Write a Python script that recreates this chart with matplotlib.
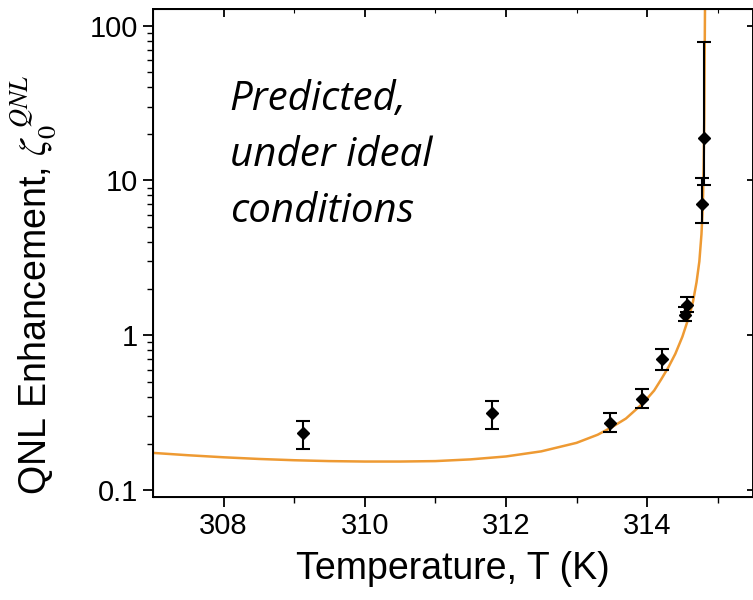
import numpy as np
import matplotlib
matplotlib.use('Agg')
import matplotlib.pyplot as plt
from matplotlib.ticker import FixedLocator, LogLocator, NullFormatter

plt.rcParams['font.family'] = ['Liberation Sans', 'DejaVu Sans']
plt.rcParams['mathtext.fontset'] = 'stix'

# predicted curve
curve_T = [307.0, 307.5, 308.0, 308.5, 309.0, 309.5, 310.0, 310.5, 311.0, 311.5,
           312.0, 312.5, 313.0, 313.3, 313.5, 313.7, 313.9, 314.0, 314.1, 314.2,
           314.3, 314.4, 314.5, 314.6, 314.65, 314.7, 314.74, 314.77, 314.79,
           314.80, 314.81, 314.815, 314.82]
curve_Z = [0.174, 0.168, 0.163, 0.159, 0.156, 0.154, 0.153, 0.153, 0.154, 0.158,
           0.165, 0.178, 0.202, 0.228, 0.255, 0.29, 0.35, 0.39, 0.44, 0.52,
           0.62, 0.76, 0.98, 1.35, 1.65, 2.2, 3.0, 4.5, 7.0,
           12.0, 25.0, 60.0, 130.0]

# measured points
pt_T = [309.12, 311.80, 313.47, 313.93, 314.21, 314.54, 314.56, 314.78, 314.80]
pt_Z = [0.233, 0.314, 0.270, 0.386, 0.70, 1.35, 1.56, 7.0, 18.7]
pt_lo = [0.184, 0.250, 0.237, 0.338, 0.60, 1.23, 1.42, 5.3, 9.4]
pt_hi = [0.279, 0.375, 0.314, 0.449, 0.81, 1.52, 1.76, 10.3, 78.0]

fig = plt.figure(figsize=(7.53, 6.0), dpi=100)
ax = fig.add_axes([153/753, 1 - 497/600, 600/753, 488/600])

ax.plot(curve_T, curve_Z, color='#EE9A33', lw=1.8, zorder=2)

z = np.array(pt_Z)
yerr = [z - np.array(pt_lo), np.array(pt_hi) - z]
ax.errorbar(pt_T, pt_Z, yerr=yerr, fmt='D', color='black', mfc='black', mec='black',
            ms=6, ecolor='black', elinewidth=1.5, capsize=5, capthick=1.5, zorder=3)

ax.set_yscale('log')
ax.set_xlim(307.0, 315.5)
ax.set_ylim(0.0903, 128)

ax.xaxis.set_major_locator(FixedLocator([308, 310, 312, 314]))
ax.xaxis.set_minor_locator(FixedLocator([309, 311, 313, 315]))
ax.yaxis.set_major_locator(FixedLocator([0.1, 1, 10, 100]))
ax.yaxis.set_minor_locator(LogLocator(base=10, subs=np.arange(2, 10)))
ax.yaxis.set_minor_formatter(NullFormatter())
ax.set_yticklabels(['0.1', '1', '10', '100'])

ax.tick_params(which='major', direction='out', length=7, width=1.3, labelsize=21, pad=4)
ax.tick_params(which='minor', direction='out', length=4, width=1.0)
for s in ax.spines.values():
    s.set_linewidth(1.4)

# mirrored ticks on top and right
top = ax.secondary_xaxis('top')
top.xaxis.set_major_locator(FixedLocator([308, 310, 312, 314]))
top.xaxis.set_minor_locator(FixedLocator([309, 311, 313, 315]))
top.tick_params(which='major', direction='in', length=6, width=1.3, labeltop=False)
top.tick_params(which='minor', direction='in', length=3, width=0.8)
top.spines['top'].set_linewidth(1.4)

right = ax.twinx()
right.set_yscale('log')
right.set_ylim(ax.get_ylim())
right.yaxis.set_major_locator(FixedLocator([0.1, 1, 10, 100]))
right.yaxis.set_minor_locator(FixedLocator([]))
right.tick_params(which='major', direction='in', length=4, width=1.3, labelright=False)

ax.set_xlabel('Temperature, T (K)', fontsize=27, labelpad=8)
ax.set_ylabel(r'QNL Enhancement, $\zeta_0^{\ QNL}$', fontsize=27)
ax.yaxis.set_label_coords(-0.158, 0.435)

ax.text(0.128, 0.855, 'Predicted,\nunder ideal\nconditions', transform=ax.transAxes,
        fontsize=29, style='italic', family='Open Sans', va='top', ha='left',
        linespacing=1.5)

fig.savefig('out.png', dpi=100)
